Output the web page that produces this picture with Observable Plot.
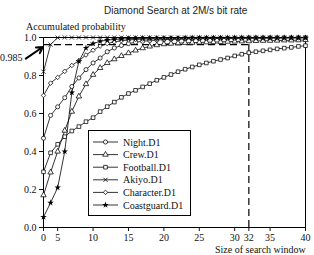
<!DOCTYPE html>
<html><head><meta charset="utf-8">
<script src="https://cdn.jsdelivr.net/npm/d3@7"></script>
<script src="https://cdn.jsdelivr.net/npm/@observablehq/plot@0.6"></script>
<style>
body{margin:0;background:#fff;overflow:hidden;}
#wrap{position:relative;width:314px;height:255px;overflow:hidden;}
.t{position:absolute;white-space:nowrap;color:#111;}
.serif{font-family:"Liberation Serif","Times New Roman",serif;font-size:10px;line-height:12px;}
</style></head><body><div id="wrap"></div>
<script>
// ---- data ----
const windowSize = [3,4,5,6,7,8,9,10,11,12,13,14,15,16,17,18,19,20,21,22,23,24,25,26,27,28,29,30,31,32,33,34,35,36,37,38,39,40];
const night = [0.47,0.59,0.635,0.683,0.742,0.787,0.831,0.866,0.892,0.925,0.945,0.958,0.968,0.975,0.98,0.984,0.987,0.989,0.99,0.991,0.992,0.993,0.994,0.994,0.995,0.995,0.996,0.996,0.996,0.997,0.997,0.997,0.998,0.998,0.998,0.998,0.999,0.999];
const crew = [0.17,0.29,0.40,0.51,0.61,0.69,0.755,0.804,0.84,0.866,0.886,0.903,0.918,0.932,0.944,0.953,0.96,0.965,0.968,0.97,0.972,0.973,0.974,0.975,0.976,0.977,0.978,0.979,0.98,0.981,0.982,0.983,0.983,0.984,0.985,0.985,0.986,0.987];
const football = [0.293,0.393,0.438,0.478,0.508,0.531,0.557,0.578,0.61,0.636,0.66,0.685,0.705,0.722,0.74,0.757,0.775,0.79,0.805,0.82,0.833,0.845,0.856,0.866,0.875,0.884,0.892,0.903,0.912,0.92,0.925,0.93,0.935,0.94,0.944,0.948,0.953,0.957];
const akiyo = [0.82,0.963,0.999,1,1,1,1,1,1,1,1,1,1,1,1,1,1,1,1,1,1,1,1,1,1,1,1,1,1,1,1,1,1,1,1,1,1,1];
const character = [0.695,0.76,0.79,0.822,0.853,0.878,0.908,0.933,0.955,0.968,0.977,0.983,0.987,0.99,0.992,0.993,0.994,0.995,0.995,0.995,0.996,0.996,0.996,0.996,0.997,0.997,0.997,0.997,0.997,0.998,0.998,0.998,0.998,0.998,0.999,0.999,0.999,0.999];
const coastguard = [0.055,0.13,0.21,0.40,0.71,0.875,0.945,0.968,0.98,0.986,0.99,0.992,0.994,0.995,0.996,0.996,0.997,0.997,0.997,0.997,0.998,0.998,0.998,0.998,0.998,0.998,0.998,0.999,0.999,0.999,0.999,0.999,0.999,0.999,0.999,0.999,0.999,0.999];
const seriesNames = ["Night.D1","Crew.D1","Football.D1","Akiyo.D1","Character.D1","Coastguard.D1"];
const seriesValues = [night, crew, football, akiyo, character, coastguard];
const xTickValues = [3,5,10,15,20,25,30,32,35,40];
const xTickLabels = ["0","5","10","15","20","25","30","32","35","40"];
const yTickValues = [0,0.2,0.4,0.6,0.8,1.0];
const thresholdLevel = 0.963;   // level where the dashed rule is drawn
const thresholdLabel = "0.985";
const thresholdWindow = 32;
const arrowFrom = {x: 0.5, y: 0.889};
const arrowTo = {x: 2.9, y: 0.95};
const titleText = "Diamond Search at 2M/s bit rate";
const yLabelText = "Accumulated probability";
const xLabelText = "Size of search window";

// ---- styles ----
const seriesStyles = [
  {symbol:"circle", fill:"white", stroke:"black"},
  {symbol:"triangle", fill:"white", stroke:"black"},
  {symbol:"square", fill:"white", stroke:"black"},
  {symbol:"times", fill:"none", stroke:"black"},
  {symbol:"diamond2", fill:"white", stroke:"black"},
  {symbol:"star", fill:"black", stroke:"none"}
];
const d3Symbols = {circle:d3.symbolCircle, triangle:d3.symbolTriangle, square:d3.symbolSquare, times:d3.symbolTimes, diamond2:d3.symbolDiamond2, star:d3.symbolStar};
const R = 2.05;

const tables = seriesValues.map((vals, s) => windowSize.map((w, i) => ({w, p: vals[i], series: seriesNames[s]})));

const marks = [
  Plot.frame({stroke:"black"}),
  Plot.ruleY([thresholdLevel], {x1: windowSize[0], x2: thresholdWindow, stroke:"black", strokeWidth:1.2, strokeDasharray:"7,4"}),
  Plot.ruleX([thresholdWindow], {y1: 0, y2: thresholdLevel, stroke:"black", strokeWidth:1.2, strokeDasharray:"7,4"}),
  Plot.axisY({ticks: yTickValues, tickFormat: d3.format(".1f"), tickSize: 4, tickPadding: 3, label: null}),
  Plot.axisX({ticks: xTickValues, tickFormat: d => xTickLabels[xTickValues.indexOf(d)], tickSize: 4, tickPadding: 2, label: null}),
];
tables.forEach((t, s) => {
  marks.push(Plot.line(t, {x:"w", y:"p", stroke:"black", strokeWidth:0.8}));
});
tables.forEach((t, s) => {
  const st = seriesStyles[s];
  marks.push(Plot.dot(t, {x:"w", y:"p", symbol: st.symbol, r: R, fill: st.fill, stroke: st.stroke, strokeWidth: 0.75}));
});
marks.push(Plot.arrow([{x1: arrowFrom.x, y1: arrowFrom.y, x2: arrowTo.x, y2: arrowTo.y}], {x1:"x1", y1:"y1", x2:"x2", y2:"y2", stroke:"black", strokeWidth:2, headLength:7, clip:false}));

const chart = Plot.plot({
  width: 314, height: 255,
  marginLeft: 43, marginRight: 9, marginTop: 37, marginBottom: 28,
  x: {domain: [3, 40]},
  y: {domain: [0, 1]},
  style: {fontFamily: '"Liberation Serif","Times New Roman",serif', fontSize: "10px", color: "#111", background: "transparent", overflow: "visible"},
  marks
});
const wrap = document.getElementById("wrap");
chart.style.position = "absolute";
chart.style.left = "0px";
chart.style.top = "0px";
wrap.appendChild(chart);

function addText(txt, cls, left, top, extra) {
  const d = document.createElement("div");
  d.className = "t " + cls;
  d.textContent = txt;
  d.style.left = left + "px";
  d.style.top = top + "px";
  if (extra) Object.assign(d.style, extra);
  wrap.appendChild(d);
  return d;
}
addText(titleText, "", 104, 5, {fontFamily: '"Liberation Sans",Arial,sans-serif', fontSize: "10px", lineHeight: "12px", color: "#222"});
addText(yLabelText, "serif", 26, 21);
addText(thresholdLabel, "serif", 0, 52);
addText(xLabelText, "serif", 215, 245, {lineHeight: "10px"});

// legend
const lg = d3.create("svg").attr("width", 104).attr("height", 87)
  .style("position", "absolute").style("left", "88px").style("top", "130px");
lg.append("rect").attr("x", 0.5).attr("y", 0.5).attr("width", 102).attr("height", 85).attr("fill", "white").attr("stroke", "black");
seriesNames.forEach((name, i) => {
  const y = 12 + i * 12.6;
  const g = lg.append("g");
  g.append("line").attr("x1", 5).attr("x2", 30).attr("y1", y).attr("y2", y).attr("stroke", "black").attr("stroke-width", 0.8);
  const st = seriesStyles[i];
  g.append("path").attr("transform", `translate(17.5,${y})`)
    .attr("d", d3.symbol(d3Symbols[st.symbol], R * R * Math.PI)())
    .attr("fill", st.fill).attr("stroke", st.stroke).attr("stroke-width", 0.75);
  g.append("text").attr("x", 35).attr("y", y + 3.5).text(name)
    .attr("font-family", '"Liberation Serif","Times New Roman",serif').attr("font-size", 10).attr("fill", "#111");
});
wrap.appendChild(lg.node());
</script>
</body></html>
